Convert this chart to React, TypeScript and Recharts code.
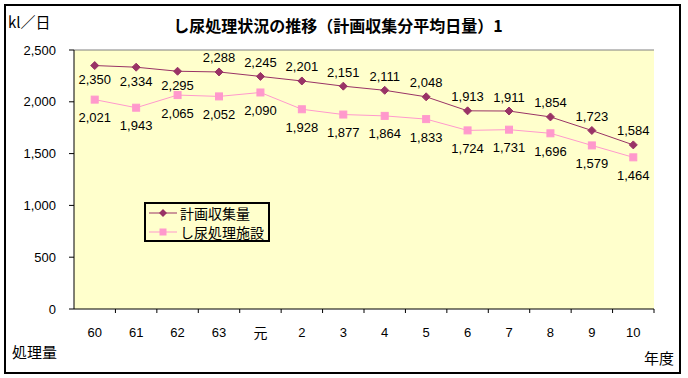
import React from 'react';
import { LineChart, Line, XAxis, YAxis, CartesianGrid, ReferenceLine, LabelList, Legend } from 'recharts';

const years = ['60', '61', '62', '63', '元', '2', '3', '4', '5', '6', '7', '8', '9', '10'];
const planned = [2350, 2334, 2295, 2288, 2245, 2201, 2151, 2111, 2048, 1913, 1911, 1854, 1723, 1584];
const facility = [2021, 1943, 2065, 2052, 2090, 1928, 1877, 1864, 1833, 1724, 1731, 1696, 1579, 1464];
const yTicks = [0, 500, 1000, 1500, 2000, 2500];
const seriesNames = ['計画収集量', 'し尿処理施設'];
const plannedLabelBelow = [true, true, true, false, false, false, false, false, false, false, false, false, false, false];

const data = years.map((y, i) => ({ year: y, planned: planned[i], facility: facility[i] }));

const C1 = '#993366';
const C2 = '#FF99CC';
const NUM_FONT = '"Liberation Sans", Arial, sans-serif';
const JP_FONT = '"Noto Sans CJK JP", sans-serif';

const fmt = (v: number) => v.toLocaleString('en-US');

const Diamond = (props: any) => {
  const { cx, cy } = props;
  if (cx == null || cy == null) return null;
  const r = 4;
  return <polygon points={`${cx},${cy - r} ${cx + r},${cy} ${cx},${cy + r} ${cx - r},${cy}`} fill={C1} stroke={C1} />;
};

const Square = (props: any) => {
  const { cx, cy } = props;
  if (cx == null || cy == null) return null;
  const s = 3.5;
  return <rect x={cx - s} y={cy - s} width={s * 2} height={s * 2} fill={C2} stroke={C2} />;
};

const makeLabel = (belowArr: boolean[] | null, below: number, above: number) => (props: any) => {
  const { x, y, value, index } = props;
  const isBelow = belowArr ? belowArr[index] : true;
  return (
    <text x={x} y={isBelow ? y + below : y - above} textAnchor="middle" dominantBaseline="central"
      fontFamily={NUM_FONT} fontSize={13} fill="#000">{fmt(value)}</text>
  );
};

const XTick = (props: any) => {
  const { x, y, payload } = props;
  const off = payload && payload.offset != null ? payload.offset : 20.7;
  const isJp = payload.value === '元';
  return (
    <g>
      <line x1={x + off} y1={y} x2={x + off} y2={y + 4} stroke="#000" />
      <text x={x} y={y + 23} textAnchor="middle" dominantBaseline="central"
        fontFamily={isJp ? JP_FONT : NUM_FONT} fontSize={isJp ? 14 : 13} fill="#000">{payload.value}</text>
    </g>
  );
};

const LegendContent = () => (
  <svg width={126} height={40} style={{ display: 'block', overflow: 'visible' }}>
    <rect x={1} y={1} width={124} height={38} fill="#FFFFCC" stroke="#000000" strokeWidth={2} />
    <line x1={5} y1={11} x2={33} y2={11} stroke={C1} />
    <polygon points="19,7 23,11 19,15 15,11" fill={C1} />
    <text x={36} y={11} dominantBaseline="central" fontFamily={JP_FONT} fontSize={14} fill="#000">{seriesNames[0]}</text>
    <line x1={5} y1={30} x2={33} y2={30} stroke={C2} />
    <rect x={15.5} y={26.5} width={7} height={7} fill={C2} />
    <text x={36} y={30} dominantBaseline="central" fontFamily={JP_FONT} fontSize={14} fill="#000">{seriesNames[1]}</text>
  </svg>
);

export default function App() {
  return (
    <div style={{ position: 'fixed', left: 0, top: 0, width: 688, height: 378, background: '#fff' }}>
      <div style={{ position: 'absolute', left: 4, top: 4, width: 677, height: 370, background: '#000' }} />
      <div style={{ position: 'absolute', left: 6, top: 6, width: 673, height: 366, background: '#fff' }} />
      <div style={{ position: 'absolute', left: 0, top: 14, width: 676, textAlign: 'center', fontFamily: JP_FONT, fontWeight: 'bold', fontSize: 16, lineHeight: '22px' }}>
        し尿処理状況の推移（計画収集分平均日量）1
      </div>
      <div style={{ position: 'absolute', left: 8, top: 11, fontFamily: JP_FONT, fontSize: 15, lineHeight: '22px' }}>kl／日</div>
      <div style={{ position: 'absolute', left: 12, top: 341, fontFamily: JP_FONT, fontSize: 15, lineHeight: '22px' }}>処理量</div>
      <div style={{ position: 'absolute', left: 644, top: 347, fontFamily: JP_FONT, fontSize: 15, lineHeight: '22px' }}>年度</div>
      <div style={{ position: 'absolute', left: 0, top: 0 }}>
        <LineChart width={688} height={378} data={data} margin={{ top: 50, right: 34, bottom: 39, left: 14 }}>
          <CartesianGrid fill="#FFFFCC" horizontal={false} vertical={false} />
          <XAxis dataKey="year" scale="band" height={30} axisLine={{ stroke: '#000' }} tickLine={false}
            tickSize={0} tickMargin={0} tick={<XTick />} interval={0} />
          <YAxis width={60} domain={[0, 2500]} ticks={yTicks} interval={0} tickFormatter={fmt}
            axisLine={{ stroke: '#000' }} tickLine={{ stroke: '#000' }} tickSize={5} tickMargin={13}
            tick={{ fill: '#000', fontFamily: NUM_FONT, fontSize: 13 }} />
          <YAxis yAxisId="right" orientation="right" width={0} domain={[0, 2500]} tick={false} tickLine={false}
            axisLine={{ stroke: '#808080' }} />
          <ReferenceLine y={2500} stroke="#808080" />
          <Legend layout="horizontal" verticalAlign="middle" align="center" content={<LegendContent />}
            wrapperStyle={{ left: 144, top: 202, width: 126, height: 40 }} />
          <Line dataKey="facility" name={seriesNames[1]} stroke={C2} strokeWidth={1} dot={<Square />} activeDot={false}
            isAnimationActive={false}>
            <LabelList dataKey="facility" content={makeLabel(null, 18, 14)} />
          </Line>
          <Line dataKey="planned" name={seriesNames[0]} stroke={C1} strokeWidth={1} dot={<Diamond />} activeDot={false}
            isAnimationActive={false}>
            <LabelList dataKey="planned" content={makeLabel(plannedLabelBelow, 14, 14)} />
          </Line>
        </LineChart>
      </div>
    </div>
  );
}
